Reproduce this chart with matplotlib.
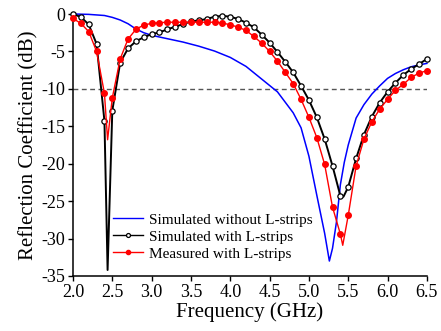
import matplotlib
matplotlib.use("Agg")
import matplotlib.pyplot as plt
import numpy as np

plt.rcParams['font.family'] = ['Liberation Serif', 'DejaVu Serif']
plt.rcParams['axes.unicode_minus'] = False

# Simulated without L-strips (blue, no markers)
f_blue = [2.0, 2.2, 2.4, 2.5, 2.6, 2.7, 2.8, 2.9, 3.0, 3.2, 3.4, 3.6, 3.8, 4.0, 4.2,
          4.4, 4.6, 4.8, 4.9, 5.0, 5.1, 5.2, 5.26, 5.3, 5.35, 5.4, 5.45, 5.5, 5.6,
          5.7, 5.8, 5.9, 6.0, 6.1, 6.2, 6.3, 6.4, 6.5]
s_blue = [0.0, -0.05, -0.2, -0.45, -0.8, -1.3, -2.0, -2.5, -2.85, -3.3, -3.75, -4.3,
          -4.95, -5.8, -7.0, -8.7, -10.4, -13.2, -15.2, -19.0, -24.2, -29.3, -33.0,
          -31.3, -27.8, -22.8, -19.8, -17.5, -13.9, -12.1, -10.7, -9.6, -8.6, -7.95,
          -7.45, -7.05, -6.8, -6.6]

# Simulated with L-strips (black, open circles)
f_black = [2.0, 2.1, 2.2, 2.3, 2.4, 2.44, 2.5, 2.6, 2.7, 2.8, 2.9, 3.0, 3.1, 3.2, 3.3,
           3.4, 3.5, 3.6, 3.7, 3.8, 3.9, 4.0, 4.1, 4.2, 4.3, 4.4, 4.5, 4.6, 4.7, 4.8,
           4.9, 5.0, 5.1, 5.2, 5.3, 5.4, 5.44, 5.5, 5.6, 5.7, 5.8, 5.9, 6.0, 6.1, 6.2,
           6.3, 6.4, 6.5]
s_black = [0.0, -0.4, -1.4, -4.0, -14.3, -34.2, -12.9, -6.5, -4.6, -3.65, -3.1, -2.7,
           -2.45, -2.05, -1.7, -1.35, -1.0, -0.85, -0.68, -0.36, -0.25, -0.36, -0.67,
           -1.16, -1.78, -2.76, -3.83, -5.08, -6.4, -7.8, -9.6, -11.5, -13.8, -16.7,
           -20.3, -24.3, -24.4, -23.1, -19.3, -16.1, -13.7, -11.85, -10.4, -9.2, -8.15,
           -7.35, -6.7, -6.0]

# Measured with L-strips (red, filled circles)
f_red = [2.0, 2.1, 2.2, 2.3, 2.4, 2.44, 2.5, 2.6, 2.7, 2.8, 2.9, 3.0, 3.1, 3.2, 3.3,
         3.4, 3.5, 3.6, 3.7, 3.8, 3.9, 4.0, 4.1, 4.2, 4.3, 4.4, 4.5, 4.6, 4.7, 4.8,
         4.9, 5.0, 5.1, 5.2, 5.3, 5.4, 5.43, 5.5, 5.6, 5.7, 5.8, 5.9, 6.0, 6.1, 6.2,
         6.3, 6.4, 6.5]
s_red = [-0.6, -1.25, -2.35, -5.0, -10.6, -16.8, -11.2, -6.0, -3.35, -2.05, -1.47,
         -1.25, -1.16, -1.1, -1.1, -1.1, -1.1, -1.1, -1.1, -1.1, -1.2, -1.45, -1.75,
         -2.2, -3.0, -3.9, -5.0, -6.3, -7.8, -9.3, -11.4, -13.8, -16.5, -20.1, -25.8,
         -29.4, -30.9, -26.9, -20.3, -16.7, -14.4, -12.7, -11.4, -10.2, -9.4, -8.46,
         -7.9, -7.57]

labels = ["Simulated without L-strips", "Simulated with L-strips", "Measured with L-strips"]
xticks = [2.0, 2.5, 3.0, 3.5, 4.0, 4.5, 5.0, 5.5, 6.0, 6.5]
yticks = [0, -5, -10, -15, -20, -25, -30, -35]

def marker_idx(f):
    return [i for i, v in enumerate(f) if abs(v * 10 - round(v * 10)) < 1e-6]

fig = plt.figure(figsize=(4.41, 3.31), dpi=100)
ax = fig.add_axes([0.1655, 0.1662, 0.8025, 0.7915])

ax.axhline(-10, xmin=0, xmax=1, color='#555555', lw=1.0, ls=(0, (3.5, 2.5)))

ax.plot(f_blue, s_blue, color='#0000ff', lw=1.1, label=labels[0], clip_on=False, zorder=3)
ax.plot(f_black, s_black, color='black', lw=1.4, marker='o', ms=3.8, mfc='white',
        mec='black', mew=0.9, markevery=marker_idx(f_black), label=labels[1],
        clip_on=False, zorder=4)
ax.plot(f_red, s_red, color='#ff0000', lw=1.0, marker='o', ms=4.0, mfc='#ff0000',
        mec='#ff0000', markevery=marker_idx(f_red), label=labels[2],
        clip_on=False, zorder=5)

ax.set_xlim(2.0, 6.5)
ax.set_ylim(-35, 0)
ax.set_xticks(xticks)
ax.set_xticklabels([f"{v:.1f}" for v in xticks])
ax.set_yticks(yticks)
ax.set_yticklabels([str(v) for v in yticks])

for s in ['top', 'right']:
    ax.spines[s].set_visible(False)
for s in ['left', 'bottom']:
    ax.spines[s].set_linewidth(1.1)
ax.tick_params(direction='out', length=3.5, width=1.0, labelsize=13, pad=2)

ax.set_xlabel("Frequency (GHz)", fontsize=15, labelpad=1)
ax.set_ylabel("Reflection Coefficient (dB)", fontsize=15, labelpad=2)

leg = ax.legend(loc='lower left', bbox_to_anchor=(0.112, 0.058), frameon=False,
                fontsize=11, handlelength=2.0, handletextpad=0.35,
                labelspacing=0.22, borderpad=0, borderaxespad=0, markerscale=0.75)
for h in leg.get_lines():
    h.set_linewidth(1.0)

fig.savefig("out.png", dpi=100)
